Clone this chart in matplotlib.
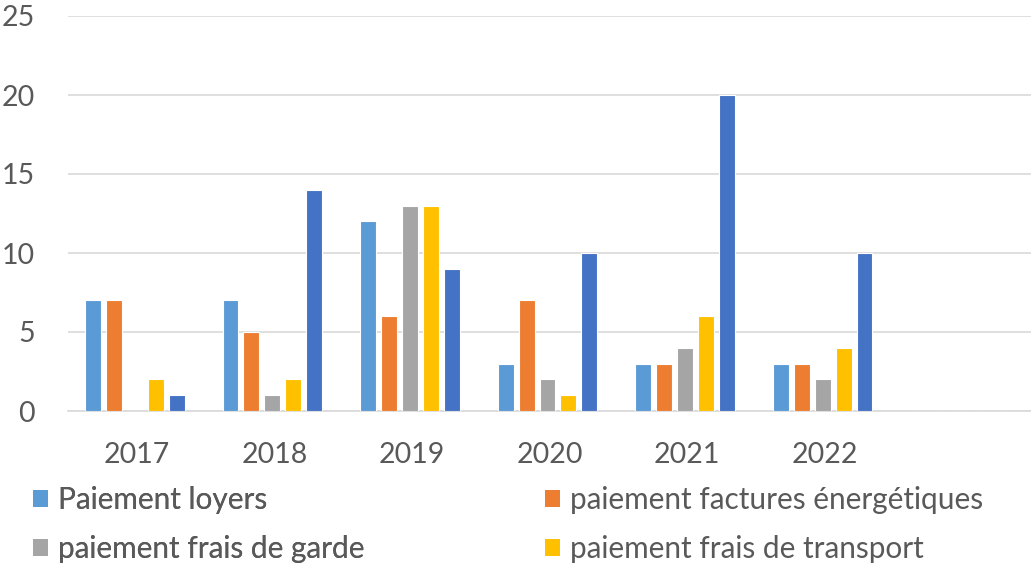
import matplotlib
matplotlib.use("Agg")
import matplotlib.pyplot as plt
from matplotlib.patches import Patch
import numpy as np

plt.rcParams['font.family'] = ['Lato', 'DejaVu Sans']

years = ["2017", "2018", "2019", "2020", "2021", "2022", ""]
series_names = ["Paiement loyers", "paiement factures énergétiques",
                "paiement frais de garde", "paiement frais de transport", "_autre"]
loyers = [7, 7, 12, 3, 3, 3, 0]
energie = [7, 5, 6, 7, 3, 3, 0]
garde = [0, 1, 13, 2, 4, 2, 0]
transport = [2, 2, 13, 1, 6, 4, 0]
autre = [1, 14, 9, 10, 20, 10, 0]
values = [loyers, energie, garde, transport, autre]
colors = ["#5B9BD5", "#ED7D31", "#A5A5A5", "#FFC000", "#4472C4"]

fig = plt.figure(figsize=(10.31, 5.68), dpi=100)
ax = fig.add_axes([68/1031, 1-411/568, 1-68/1031, (411-16)/568])

x = np.arange(len(years))
pitch = 21/138
width = 16/138
shift = -2/138
for i, (vals, c, name) in enumerate(zip(values, colors, series_names)):
    ax.bar(x + (i-2)*pitch + shift, vals, width, color=c, edgecolor="white",
           linewidth=0.8, label=name, zorder=3)

ax.set_xlim(-0.5, len(years)-0.5)
ax.set_ylim(0, 25)
ax.set_yticks([0, 5, 10, 15, 20, 25])
ax.set_xticks(x)
ax.set_xticklabels(years)
ax.yaxis.grid(True, color="#D9D9D9", linewidth=1.2, zorder=0)
for s in ["top", "right", "left"]:
    ax.spines[s].set_visible(False)
ax.spines["bottom"].set_color("#D9D9D9")
ax.spines["bottom"].set_linewidth(1.2)
ax.tick_params(axis="both", length=0, labelsize=20.5, labelcolor="#595959")
ax.tick_params(axis="y", pad=24)
ax.tick_params(axis="x", pad=22)

def mk(i):
    return Patch(facecolor=colors[i], edgecolor="none")

common = dict(frameon=False, fontsize=21.4, handlelength=0.5, handleheight=0.5,
              handletextpad=0.35, labelspacing=0.72, borderaxespad=0, borderpad=0,
              labelcolor="#595959")
leg1 = fig.legend([mk(0), mk(2)], [series_names[0], series_names[2]],
                  loc="upper left", bbox_to_anchor=(33/1031, 1-486/568), **common)
fig.add_artist(leg1)
leg2 = fig.legend([mk(1), mk(3)], [series_names[1], series_names[3]],
                  loc="upper left", bbox_to_anchor=(545/1031, 1-486/568), **common)

fig.savefig("out.png", dpi=100)
